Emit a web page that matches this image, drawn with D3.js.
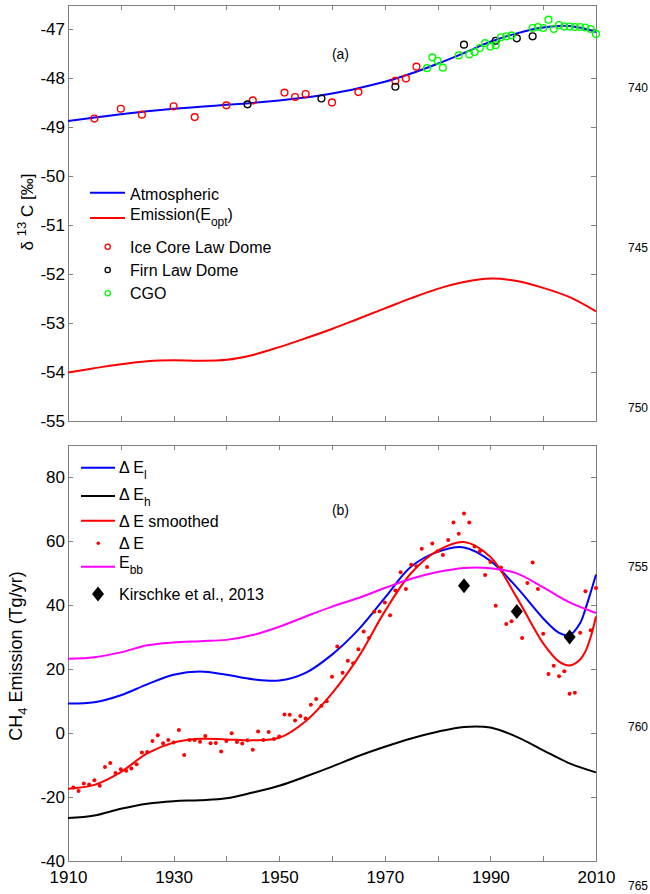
<!DOCTYPE html>
<html lang="en">
<head>
<meta charset="UTF-8">
<title>delta13C and CH4 emission</title>
<script src="https://d3js.org/d3.v7.min.js"></script>
<style>
  body { margin: 0; background: #fff; font-family: "Liberation Sans", Arial, Helvetica, sans-serif; }
  .axis path, .axis line { stroke: #7f7f7f; shape-rendering: crispEdges; }
  .axis text { fill: #000; font-size: 17px; font-family: "Liberation Sans", Arial, sans-serif; }
  .curve { fill: none; stroke-width: 2px; }
  .leg { font-size: 16px; fill: #000; }
  .lineno { font-size: 12px; fill: #000; }
</style>
</head>
<body>
<svg width="650" height="894"></svg>
<script>
// ---- panel (a): delta 13C ----
const atmYears = [1910,1915,1920,1925,1930,1935,1940,1945,1950,1955,1960,1965,1970,1975,1980,1985,1990,1995,2000,2005,2010];
const atmValues = [-48.87,-48.80,-48.73,-48.67,-48.62,-48.58,-48.54,-48.50,-48.45,-48.39,-48.31,-48.20,-48.07,-47.90,-47.70,-47.48,-47.25,-47.08,-46.96,-46.93,-47.05];
const emisValues = [-54.01,-53.92,-53.84,-53.78,-53.76,-53.77,-53.75,-53.65,-53.49,-53.31,-53.12,-52.91,-52.70,-52.49,-52.30,-52.16,-52.09,-52.14,-52.28,-52.47,-52.76];

const iceYears = [1915,1920,1924,1930,1934,1940,1945,1951,1953,1955,1960,1965,1972,1974,1976];
const iceValues = [-48.82,-48.62,-48.74,-48.57,-48.79,-48.55,-48.45,-48.29,-48.38,-48.32,-48.49,-48.28,-48.05,-48.00,-47.76];

const firnYears = [1944,1958,1972,1985,1991,1995,1998];
const firnValues = [-48.53,-48.41,-48.17,-47.31,-47.23,-47.18,-47.14];

const cgoYears = [1978,1979,1980,1981,1984,1986,1987,1988,1989,1990,1991,1992,1993,1994,1998,1999,2000,2001,2002,2003,2004,2005,2006,2007,2008,2009,2010];
const cgoValues = [-47.79,-47.57,-47.64,-47.78,-47.53,-47.51,-47.46,-47.38,-47.28,-47.35,-47.32,-47.16,-47.14,-47.12,-46.97,-46.95,-46.97,-46.80,-46.99,-46.91,-46.94,-46.94,-46.95,-46.95,-46.96,-46.99,-47.09];

// ---- panel (b): CH4 emission ----
const dElYears = [1910,1915,1920,1925,1930,1935,1940,1945,1950,1955,1960,1965,1970,1975,1980,1985,1990,1995,2000,2003,2005,2007,2008,2009,2010];
const dElValues = [9.2,9.6,11.8,15.2,18.2,19.2,18.2,16.8,16.4,18.8,24.5,32.3,42.2,52.0,56.6,58.0,53.8,45.5,35.8,31.3,30.6,34.4,38.8,44.0,49.5];

const dEhYears = [1910,1915,1920,1925,1930,1935,1940,1945,1950,1955,1960,1965,1970,1975,1980,1985,1990,1995,2000,2005,2010];
const dEhValues = [-26.6,-25.8,-23.7,-22.1,-21.3,-21.0,-20.4,-18.6,-16.5,-13.6,-10.5,-7.2,-4.3,-1.7,0.4,1.9,1.7,-1.2,-5.4,-9.5,-12.3];

const dEsYears = [1910,1915,1920,1925,1930,1935,1940,1945,1950,1955,1960,1965,1970,1975,1980,1985,1990,1995,2000,2003,2005,2007,2008,2009,2010];
const dEsValues = [-17.4,-16.2,-12.2,-6.4,-3.0,-1.8,-2.0,-2.3,-1.5,3.7,12.4,23.7,38.0,50.0,57.0,59.7,55.0,42.3,28.0,22.3,21.1,23.0,25.5,30.0,36.4];

const ebbYears = [1910,1915,1920,1925,1930,1935,1940,1945,1950,1955,1960,1965,1970,1975,1980,1985,1990,1995,2000,2005,2010];
const ebbValues = [23.2,23.7,25.2,27.4,28.3,28.7,29.1,30.6,33.2,36.4,39.5,42.2,45.3,48.2,50.3,51.6,51.5,49.9,45.5,40.8,37.5];

const dEYears = d3.range(1911, 2011);
const dEValues = [-17.0,-18.1,-15.8,-16.1,-14.8,-16.5,-10.6,-9.4,-12.5,-11.3,
  -11.8,-11.1,-9.8,-6.1,-5.9,-2.5,-0.7,-3.2,-2.2,-3.0,
  0.9,-6.9,-2.2,-2.2,-2.7,-0.9,-3.2,-3.1,-5.8,-2.5,
  -0.1,-2.8,-3.3,-2.3,-5.2,0.5,-2.2,0.3,-1.9,-1.1,
  5.8,5.7,3.9,5.3,4.5,8.8,10.6,8.5,9.9,17.6,
  27.0,18.8,22.6,21.8,26.2,31.7,29.7,37.9,38.0,40.8,
  36.8,44.5,50.2,45.0,52.6,52.1,57.6,51.9,59.2,56.8,
  55.6,60.3,65.8,62.3,68.6,65.8,58.3,56.8,49.4,53.4,
  39.8,51.7,34.1,34.9,38.5,29.7,46.9,53.3,45.0,31.0,
  18.4,21.0,17.7,19.3,12.3,12.6,31.3,44.3,32.1,45.3];

const kirYears = [1985, 1995, 2005];
const kirValues = [46, 38, 30];

const topTicks = [-55,-54,-53,-52,-51,-50,-49,-48,-47];
const botTicks = [-40,-20,0,20,40,60,80];
const yearTicks = d3.range(1910, 2011, 10);
const yearLabels = [1910, 1930, 1950, 1970, 1990, 2010];
const lineNumbers = [740, 745, 750, 755, 760, 765];

const legendA = ["Atmospheric", "Emission(E", "Ice Core Law Dome", "Firn Law Dome", "CGO"];
const legendB = ["Kirschke et al., 2013"];

// ---- drawing ----
const svg = d3.select("svg");
const x = d3.scaleLinear().domain([1910, 2010]).range([68, 596]);
const yTop = d3.scaleLinear().domain([-55, -46.5]).range([421, 5]);
const yBot = d3.scaleLinear().domain([-40, 90]).range([861, 445]);
const curve = d3.curveCatmullRom.alpha(0.5);

function frame(y, ticks, labelYears) {
  const [yb, yt] = y.range();
  const noLab = () => "";
  svg.append("g").attr("class", "axis").attr("transform", `translate(0,${yb})`)
    .call(d3.axisBottom(x).tickValues(yearTicks).tickSize(-5).tickSizeOuter(0).tickPadding(10)
      .tickFormat(d => labelYears && labelYears.includes(d) ? String(d) : ""));
  svg.append("g").attr("class", "axis").attr("transform", `translate(0,${yt})`)
    .call(d3.axisTop(x).tickValues(yearTicks).tickSize(-5).tickSizeOuter(0).tickFormat(noLab));
  svg.append("g").attr("class", "axis").attr("transform", "translate(68,0)")
    .call(d3.axisLeft(y).tickValues(ticks).tickSize(-5).tickSizeOuter(0).tickPadding(3).tickFormat(d => String(d)));
  svg.append("g").attr("class", "axis").attr("transform", "translate(596,0)")
    .call(d3.axisRight(y).tickValues(ticks).tickSize(-5).tickSizeOuter(0).tickFormat(noLab));
}

function drawLine(years, values, y, color) {
  svg.append("path").attr("class", "curve").attr("stroke", color)
    .attr("d", d3.line().x((d, i) => x(years[i])).y(d => y(d)).curve(curve)(values));
}

function circles(years, values, color) {
  svg.append("g").selectAll("circle").data(values).join("circle")
    .attr("cx", (d, i) => x(years[i])).attr("cy", d => yTop(d)).attr("r", 3.4)
    .attr("fill", "none").attr("stroke", color).attr("stroke-width", 1.4);
}

// panel (a)
frame(yTop, topTicks, null);
drawLine(atmYears, atmValues, yTop, "#0000ff");
drawLine(atmYears, emisValues, yTop, "#ff0000");
circles(iceYears, iceValues, "#ff0000");
circles(firnYears, firnValues, "#000000");
circles(cgoYears, cgoValues, "#00ff00");

svg.append("text").attr("x", x(1961.6)).attr("y", yTop(-47.6)).attr("text-anchor", "middle")
  .style("font-size", "14px").text("(a)");

// legend (a)
const la = svg.append("g");
[[192.7, "#0000ff", 199.5], [218, "#ff0000", 220]].forEach(([ly, c, base], i) => {
  la.append("line").attr("x1", 90).attr("x2", 125).attr("y1", ly).attr("y2", ly)
    .attr("stroke", c).attr("stroke-width", 2);
  const t = la.append("text").attr("class", "leg").attr("x", 130).attr("y", base).text(legendA[i]);
  if (i === 1) {
    t.append("tspan").attr("dy", 6).style("font-size", "12px").text("opt");
    t.append("tspan").attr("dy", -6).text(")");
  }
});
[[246.7, "#ff0000"], [270, "#000000"], [293.3, "#00ff00"]].forEach(([ly, c], i) => {
  la.append("circle").attr("cx", 107.7).attr("cy", ly).attr("r", 2.6)
    .attr("fill", "none").attr("stroke", c).attr("stroke-width", 1.3);
  la.append("text").attr("class", "leg").attr("x", 130).attr("y", ly + 6).text(legendA[i + 2]);
});

// y label (a)
const ta = svg.append("text").attr("transform", "translate(32.5,212) rotate(-90)")
  .attr("text-anchor", "middle").style("font-size", "17px");
ta.append("tspan").text("δ ");
ta.append("tspan").attr("dy", -7).style("font-size", "13px").text("13");
ta.append("tspan").attr("dy", 7).text(" C [‰]");

// panel (b)
frame(yBot, botTicks, yearLabels);
drawLine(dElYears, dElValues, yBot, "#0000ff");
drawLine(dEhYears, dEhValues, yBot, "#000000");
drawLine(dEsYears, dEsValues, yBot, "#ff0000");
svg.append("g").selectAll("circle").data(dEValues).join("circle")
  .attr("cx", (d, i) => x(dEYears[i])).attr("cy", d => yBot(d)).attr("r", 2).attr("fill", "#ff0000");
drawLine(ebbYears, ebbValues, yBot, "#ff00ff");
const diamond = "M0,-7.5L6,0L0,7.5L-6,0Z";
svg.append("g").selectAll("path").data(kirValues).join("path")
  .attr("d", diamond).attr("fill", "#000")
  .attr("transform", (d, i) => `translate(${x(kirYears[i])},${yBot(d)})`);

svg.append("text").attr("x", x(1961.6)).attr("y", yBot(68.2)).attr("text-anchor", "middle")
  .style("font-size", "14px").text("(b)");

// legend (b)
const lb = svg.append("g");
function deltaLabel(base, sub, rest) {
  const t = lb.append("text").attr("class", "leg").attr("x", 119).attr("y", base);
  t.append("tspan").text(sub === "bb" ? "E" : "Δ E" + (rest || ""));
  if (sub) t.append("tspan").attr("dy", 6).style("font-size", "12px").text(sub);
  return t;
}
[[467.7, "#0000ff"], [496, "#000000"], [520.7, "#ff0000"], [566.7, "#ff00ff"]].forEach(([ly, c]) => {
  lb.append("line").attr("x1", 81).attr("x2", 115).attr("y1", ly).attr("y2", ly)
    .attr("stroke", c).attr("stroke-width", 2);
});
deltaLabel(472.5, "l");
deltaLabel(500, "h");
deltaLabel(527.2, null, " smoothed");
lb.append("circle").attr("cx", 98.3).attr("cy", 543.3).attr("r", 1.8).attr("fill", "#ff0000");
deltaLabel(549.3, null);
deltaLabel(568.3, "bb");
lb.append("path").attr("d", diamond).attr("fill", "#000").attr("transform", "translate(98,594)");
lb.append("text").attr("class", "leg").attr("x", 119).attr("y", 600).text(legendB[0]);

// y label (b)
const tb = svg.append("text").attr("transform", "translate(21.7,656) rotate(-90)")
  .attr("text-anchor", "middle").style("font-size", "18px");
tb.append("tspan").text("CH");
tb.append("tspan").attr("dy", 5).style("font-size", "13px").text("4");
tb.append("tspan").attr("dy", -5).text(" Emission (Tg/yr)");

// manuscript line numbers
const yLine = d3.scaleLinear().domain([740, 765]).range([92.3, 890.3]);
svg.append("g").selectAll("text").data(lineNumbers).join("text")
  .attr("class", "lineno").attr("x", 638).attr("y", d => yLine(d))
  .attr("text-anchor", "middle").text(d => d);
</script>
</body>
</html>
